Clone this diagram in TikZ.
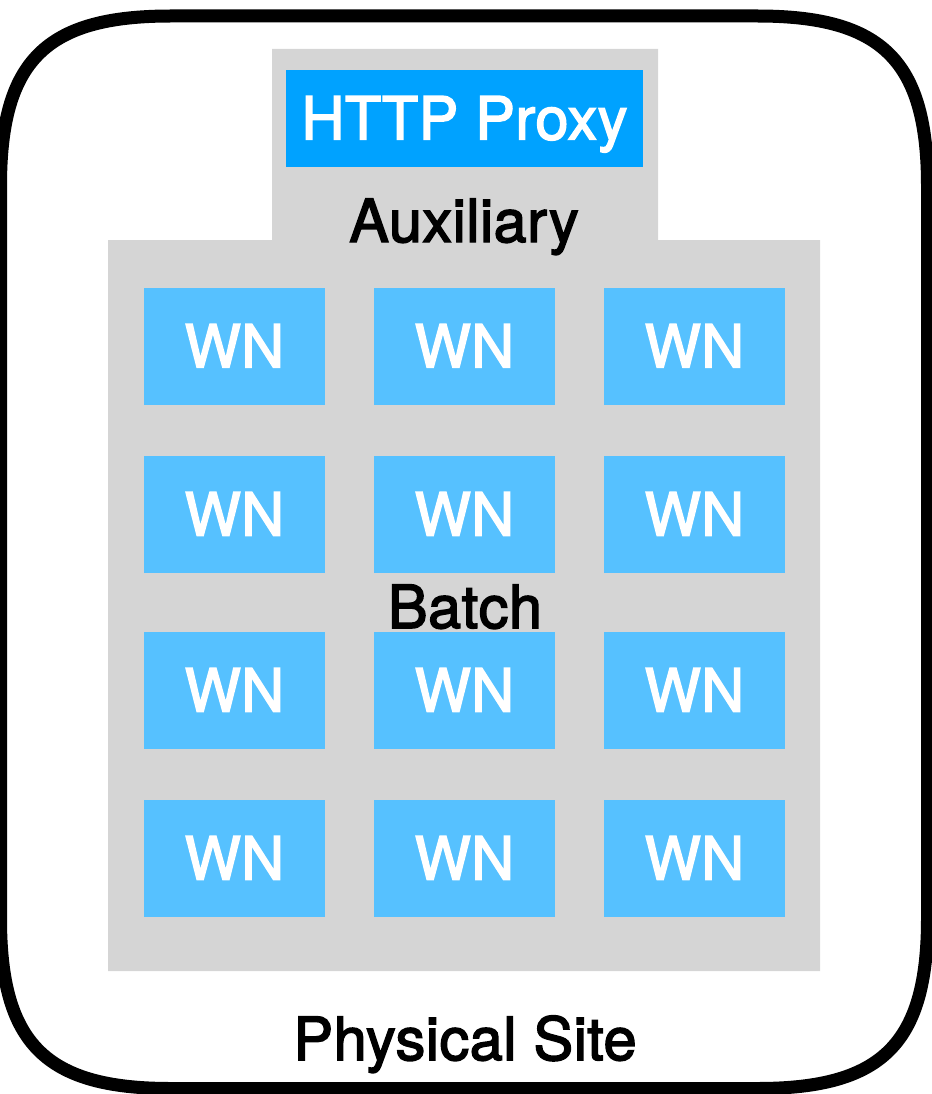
\documentclass[tikz,border=0pt]{standalone}
\usepackage{fontspec}
\setmainfont{TeX Gyre Heros}
\newfontfamily\medfont{TeX Gyre Heros}[FakeBold=2.5, LetterSpace=0.8]
\definecolor{greyzone}{HTML}{D5D5D5}
\definecolor{proxyblue}{HTML}{00A2FF}
\definecolor{wnblue}{HTML}{56C1FF}
\begin{document}
\begin{tikzpicture}[x=1pt,y=-1pt,
  bigtext/.style={font=\medfont\fontsize{59.5}{61}\selectfont},
  wnbox/.style={fill=wnblue, draw=none, minimum width=181pt, minimum height=117pt,
    inner sep=0pt, text=white, bigtext, text height=42pt, text depth=0pt},
  proxybox/.style={fill=proxyblue, draw=none, minimum width=357pt, minimum height=97pt,
    inner sep=0pt, text=white, bigtext, text height=42pt, text depth=0pt},
  lbl/.style={anchor=base, inner sep=0pt, text=black, bigtext}]
\useasboundingbox (0,0) rectangle (931,1094);
% outer physical site border
\def\L{0.5}\def\R{927.5}\def\T{16}\def\B{1088.5}
\draw[line width=13pt, line join=round]
  (\L,\T+170) .. controls (\L,\T+45) and (\L+45,\T) .. (\L+170,\T)
  -- (\R-170,\T) .. controls (\R-45,\T) and (\R,\T+45) .. (\R,\T+170)
  -- (\R,\B-170) .. controls (\R,\B-45) and (\R-45,\B) .. (\R-170,\B)
  -- (\L+170,\B) .. controls (\L+45,\B) and (\L,\B-45) .. (\L,\B-170) -- cycle;
% grey zone (auxiliary + batch)
\fill[greyzone] (108,240) -- (272,240) -- (272,49) -- (658,49) -- (658,240)
  -- (820,240) -- (820,971) -- (108,971) -- cycle;
% proxy
\node[proxybox] (proxy) at (464.5,118.5) {HTTP Proxy};
\node[lbl] (aux) at (464,242) {Auxiliary};
% worker nodes
\foreach \r/\y in {1/346.5, 2/514.5, 3/690.5, 4/858.5}{
  \foreach \c/\x in {1/234.5, 2/464.5, 3/694.5}{
    \node[wnbox] (wn\r\c) at (\x,\y) {WN};
  }
}
\node[lbl] (batch) at (465,628) {Batch};
\node[lbl] (site) at (465,1060) {Physical Site};
\end{tikzpicture}
\end{document}
